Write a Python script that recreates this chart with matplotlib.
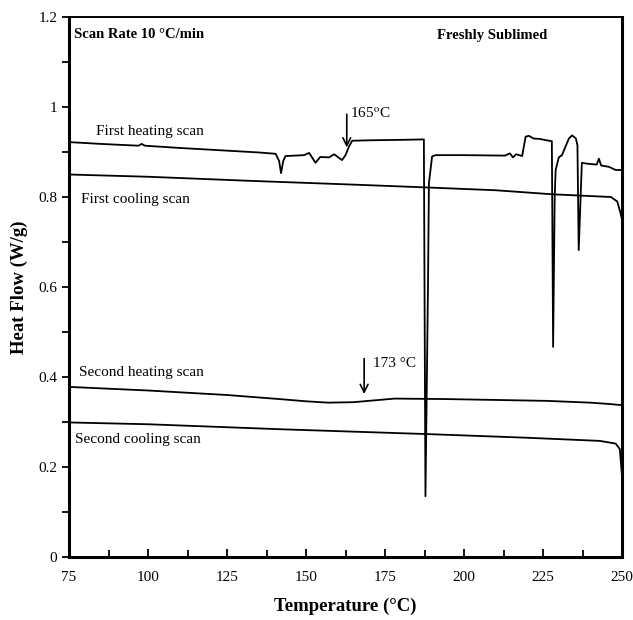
import matplotlib
matplotlib.use("Agg")
import matplotlib.pyplot as plt
from matplotlib.ticker import MultipleLocator

plt.rcParams['font.family'] = ['Liberation Serif', 'DejaVu Serif']
plt.rcParams['mathtext.fontset'] = 'stix'

# ---- data ----
heat1_T = [75, 85, 97, 98, 99, 110, 120, 135, 140.4, 141.5, 142.1, 142.8, 143.5,
           149.4, 151, 153, 154.5, 157.3, 158.9, 161.4, 162.5, 163.6, 164.6,
           170, 180, 187.3, 187.8, 188.6, 188.9, 189.9, 191, 200, 213, 214.5,
           215.5, 216.5, 218.4, 219.5, 220.5, 222, 224, 226.9, 227.8, 228.2,
           228.7, 229.0, 230.0, 231.0, 233.2, 234.2, 235.4, 235.9, 236.3, 236.9,
           237.3, 239, 242, 242.7, 243.4, 245.9, 248, 250]
heat1_Q = [0.922, 0.918, 0.914, 0.918, 0.914, 0.909, 0.905, 0.899, 0.896, 0.88,
           0.853, 0.88, 0.891, 0.893, 0.898, 0.876, 0.889, 0.888, 0.895, 0.882,
           0.893, 0.912, 0.925, 0.926, 0.927, 0.928, 0.135, 0.60, 0.831, 0.89,
           0.893, 0.893, 0.892, 0.897, 0.888, 0.895, 0.891, 0.934, 0.936, 0.93,
           0.929, 0.925, 0.924, 0.467, 0.80, 0.86, 0.888, 0.893, 0.93, 0.937,
           0.93, 0.915, 0.682, 0.80, 0.876, 0.874, 0.872, 0.885, 0.87, 0.867,
           0.86, 0.86]

cool1_T = [75, 100, 132, 167, 189, 210, 228, 246.5, 248.5, 249.5, 250]
cool1_Q = [0.850, 0.845, 0.836, 0.827, 0.821, 0.815, 0.806, 0.800, 0.79, 0.765, 0.75]

heat2_T = [75, 100, 125, 141.5, 150, 157, 165, 178, 194, 210, 226, 240, 246, 249, 250]
heat2_Q = [0.378, 0.370, 0.360, 0.351, 0.346, 0.343, 0.344, 0.352, 0.351, 0.349,
           0.347, 0.343, 0.340, 0.338, 0.338]

cool2_T = [75, 100, 141.5, 189, 220, 243, 248, 249.3, 250]
cool2_Q = [0.299, 0.295, 0.284, 0.273, 0.265, 0.258, 0.252, 0.24, 0.18]

xticks = [75, 100, 125, 150, 175, 200, 225, 250]
yticks = [0, 0.2, 0.4, 0.6, 0.8, 1.0, 1.2]
ytick_labels = ['0', '0.2', '0.4', '0.6', '0.8', '1', '1.2']

# ---- figure ----
fig = plt.figure(figsize=(6.33, 6.20), dpi=100)
ax = fig.add_axes([69/633, 1-557/620, (622-69)/633, (557-17)/620])

lw = 1.3
ax.plot(heat1_T, heat1_Q, color='black', lw=lw)
ax.plot(cool1_T, cool1_Q, color='black', lw=lw)
ax.plot(heat2_T, heat2_Q, color='black', lw=lw)
ax.plot(cool2_T, cool2_Q, color='black', lw=lw)

ax.set_xlim(75, 250)
ax.set_ylim(0, 1.2)
ax.set_xticks(xticks)
ax.set_yticks(yticks)
ax.set_yticklabels(ytick_labels)
ax.xaxis.set_minor_locator(MultipleLocator(12.5))
ax.yaxis.set_minor_locator(MultipleLocator(0.1))
ax.tick_params(axis='x', which='both', direction='in', labelsize=11, width=1.3, pad=10)
ax.tick_params(axis='x', which='major', length=6)
ax.tick_params(axis='x', which='minor', length=5)
ax.tick_params(axis='y', which='both', direction='out', labelsize=11, width=1.3, length=5)
ax.tick_params(top=False, right=False)

for s in ['left', 'bottom', 'right']:
    ax.spines[s].set_linewidth(2.2)
ax.spines['top'].set_linewidth(1.4)

ax.set_xlabel('Temperature (°C)', fontsize=13.5, fontweight='bold', labelpad=10)
ax.set_ylabel('Heat Flow (W/g)', fontsize=13.5, fontweight='bold', labelpad=7)

# annotations
ax.text(76.6, 1.16, 'Scan Rate 10 °C/min', fontsize=10.5, fontweight='bold', va='center', ha='left')
ax.text(191.5, 1.16, 'Freshly Sublimed', fontsize=10.5, fontweight='bold', va='center', ha='left')
ax.text(83.5, 0.946, 'First heating scan', fontsize=11, va='center', ha='left')
ax.text(78.8, 0.795, 'First cooling scan', fontsize=11, va='center', ha='left')
ax.text(78.2, 0.409, 'Second heating scan', fontsize=11, va='center', ha='left')
ax.text(76.9, 0.262, 'Second cooling scan', fontsize=11, va='center', ha='left')

ax.annotate('', xy=(162.9, 0.904), xytext=(162.9, 0.99),
            arrowprops=dict(arrowstyle='->', color='black', lw=1.2, mutation_scale=14))
ax.text(163.9, 0.985, '165$^{\\rm o}$C', fontsize=11, va='center', ha='left')

ax.annotate('', xy=(168.4, 0.356), xytext=(168.4, 0.447),
            arrowprops=dict(arrowstyle='->', color='black', lw=1.2, mutation_scale=14))
ax.text(171.2, 0.431, '173 °C', fontsize=11, va='center', ha='left')

fig.savefig('out.png', dpi=100)
